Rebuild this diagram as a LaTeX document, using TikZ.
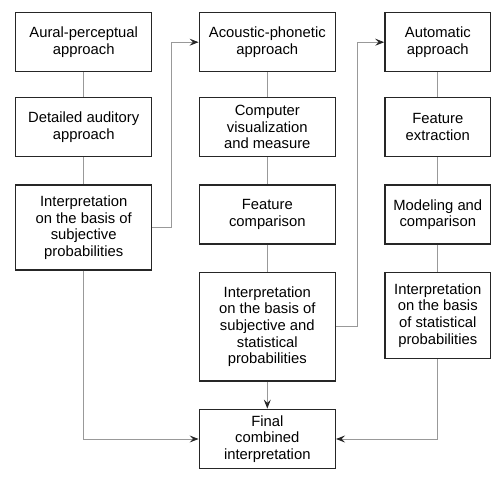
\documentclass[tikz,border=0pt]{standalone}
\usepackage{fontspec}
\setmainfont{Liberation Sans}
\usetikzlibrary{arrows.meta}
\begin{document}
\begin{tikzpicture}[x=1pt,y=1pt,
  box/.style={draw=black!85, line width=1.5pt, align=center, inner sep=0pt,
    font=\fontsize{14.8}{16.6}\selectfont, text=black},
  wide/.style={minimum width=136pt},
  narrow/.style={minimum width=105.7pt},
  conn/.style={draw=black!40, line width=0.8pt},
  arr/.style={conn, -{Stealth[length=9pt,width=7pt,inset=3.5pt,color=black!85]}}
]
\useasboundingbox (0,0) rectangle (504,480);
% left column
\node[box,wide,minimum height=59pt] (L1) at (83.7,437.8) {Aural-perceptual\\approach};
\node[box,wide,minimum height=59.4pt] (L2) at (83.7,353) {Detailed auditory\\approach};
\node[box,wide,minimum height=85pt] (L3) at (83.7,252.5) {Interpretation\\on the basis of\\subjective\\probabilities};
% middle column
\node[box,wide,minimum height=59pt] (M1) at (267.3,437.8) {Acoustic-phonetic\\approach};
\node[box,wide,minimum height=59.4pt] (M2) at (267.3,353) {Computer\\visualization\\and measure};
\node[box,wide,minimum height=59pt] (M3) at (267.3,265.5) {Feature\\comparison};
\node[box,wide,minimum height=108.7pt] (M4) at (267.3,153.3) {Interpretation\\on the basis of\\subjective and\\statistical\\probabilities};
% right column
\node[box,narrow,minimum height=59pt] (R1) at (437.8,437.8) {Automatic\\approach};
\node[box,narrow,minimum height=59.4pt] (R2) at (437.8,353) {Feature\\extraction};
\node[box,narrow,minimum height=59pt] (R3) at (437.8,265.5) {Modeling and\\comparison};
\node[box,narrow,minimum height=86pt] (R4) at (437.8,164.7) {Interpretation\\on the basis\\of statistical\\probabilities};
% final
\node[box,wide,minimum height=59.4pt] (F) at (267.3,41) {Final\\combined\\interpretation};
% vertical links
\draw[conn] (L1) -- (L2);
\draw[conn] (L2) -- (L3);
\draw[conn] (M1) -- (M2);
\draw[conn] (M2) -- (M3);
\draw[conn] (M3) -- (M4);
\draw[conn] (R1) -- (R2);
\draw[conn] (R2) -- (R3);
\draw[conn] (R3) -- (R4);
% cross links
\coordinate (c1) at (171.7,0);
\coordinate (c2) at (357.7,0);
\draw[arr] (L3.east) -- (L3.east -| c1) |- (M1.west);
\draw[arr] (M4.east) -- (M4.east -| c2) |- (R1.west);
\draw[arr] (M4) -- (F);
\draw[arr] (L3.south) |- (F.west);
\draw[arr] (R4.south) |- (F.east);
\end{tikzpicture}
\end{document}
